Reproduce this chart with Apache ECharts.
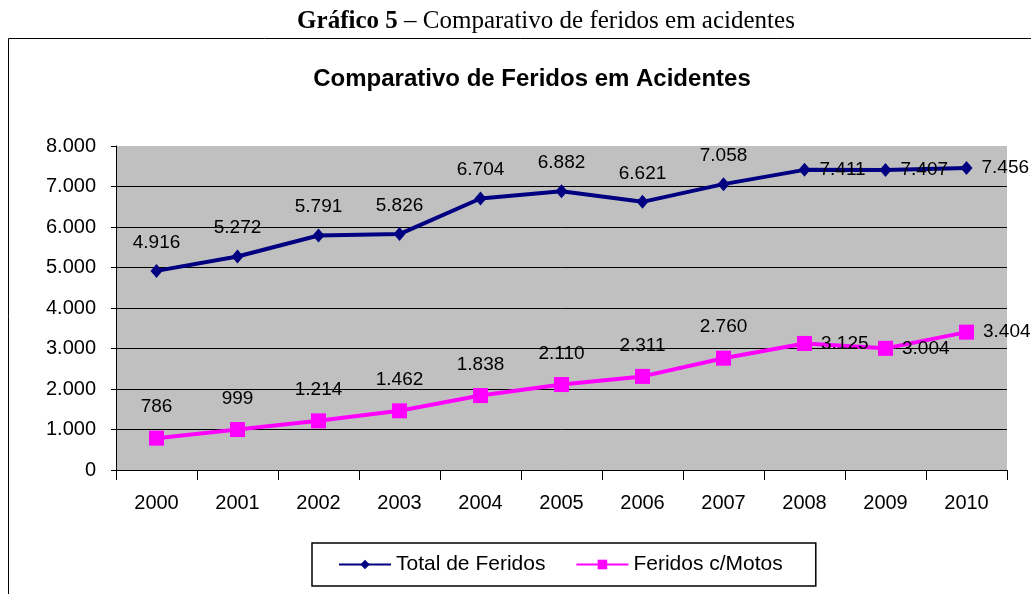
<!DOCTYPE html>
<html>
<head>
<meta charset="utf-8">
<script src="https://cdn.jsdelivr.net/npm/echarts@6/dist/echarts.min.js"></script>
<style>
  html, body { margin: 0; padding: 0; background: #fff; }
  #main { width: 1031px; height: 594px; }
</style>
</head>
<body>
<div id="main"></div>
<script>
var anos = ['2000', '2001', '2002', '2003', '2004', '2005', '2006', '2007', '2008', '2009', '2010'];
var totalFeridos = [4916, 5272, 5791, 5826, 6704, 6882, 6621, 7058, 7411, 7407, 7456];
var feridosMotos = [786, 999, 1214, 1462, 1838, 2110, 2311, 2760, 3125, 3004, 3404];
var yTicks = [0, 1000, 2000, 3000, 4000, 5000, 6000, 7000, 8000];

function fmt(v) {
    return String(v).replace(/\B(?=(\d{3})+(?!\d))/g, '.');
}

// os tres ultimos rotulos ficam a direita do ponto
function pontos(arr) {
    return arr.map(function (v, i) {
        if (i >= 8) {
            return { value: v, label: { position: 'right', distance: 9 } };
        }
        return v;
    });
}

var chart = echarts.init(document.getElementById('main'));
var option = {
    backgroundColor: '#ffffff',
    animation: false,
    title: [{
        text: '{b|Gráfico 5}{n| – Comparativo de feridos em acidentes}',
        left: 541,
        top: 4,
        textAlign: 'center',
        textStyle: {
            rich: {
                b: { fontFamily: 'Liberation Serif', fontWeight: 'bold', fontSize: 25, color: '#000' },
                n: { fontFamily: 'Liberation Serif', fontWeight: 'normal', fontSize: 25, color: '#000' }
            }
        }
    }, {
        text: 'Comparativo de Feridos em Acidentes',
        left: 527,
        top: 62,
        textAlign: 'center',
        textStyle: { fontFamily: 'Liberation Sans', fontWeight: 'bold', fontSize: 24, color: '#000' }
    }],
    graphic: [{
        type: 'rect',
        shape: { x: 8.5, y: 38.5, width: 1100, height: 700 },
        style: { fill: 'none', stroke: '#000', lineWidth: 1 },
        z: -1
    }],
    legend: {
        left: 312,
        top: 543,
        padding: [11, 33, 11, 26],
        itemGap: 30,
        itemWidth: 52,
        itemHeight: 12,
        borderColor: '#000',
        borderWidth: 1.5,
        textStyle: { fontFamily: 'Liberation Sans', fontSize: 21, color: '#000' },
        data: ['Total de Feridos', 'Feridos c/Motos']
    },
    grid: {
        left: 116,
        right: 24,
        top: 146,
        bottom: 124,
        show: true,
        backgroundColor: '#c0c0c0',
        borderWidth: 0
    },
    xAxis: {
        type: 'category',
        data: anos,
        boundaryGap: true,
        axisLine: { lineStyle: { color: '#000', width: 1 } },
        axisTick: { show: true, length: 10, interval: 0, lineStyle: { color: '#000' } },
        axisLabel: { fontFamily: 'Liberation Sans', fontSize: 20, color: '#000', margin: 23 }
    },
    yAxis: {
        type: 'value',
        min: 0,
        max: 8000,
        interval: 1000,
        axisLine: { show: true, lineStyle: { color: '#000', width: 1 } },
        axisTick: { show: true, length: 5, lineStyle: { color: '#000' } },
        axisLabel: {
            fontFamily: 'Liberation Sans', fontSize: 20, color: '#000', margin: 20,
            formatter: function (v) { return yTicks.indexOf(v) >= 0 ? fmt(v) : ''; }
        },
        splitLine: { show: true, showMaxLine: false, lineStyle: { color: '#000', width: 1 } }
    },
    series: [{
        name: 'Total de Feridos',
        type: 'line',
        data: pontos(totalFeridos),
        symbol: 'diamond',
        symbolSize: [12, 14],
        color: '#000080',
        lineStyle: { width: 4, color: '#000080' },
        itemStyle: { color: '#000080' },
        label: {
            show: true, position: 'top', distance: 12,
            fontFamily: 'Liberation Sans', fontSize: 19, color: '#000',
            formatter: function (p) { return fmt(p.value); }
        }
    }, {
        name: 'Feridos c/Motos',
        type: 'line',
        data: pontos(feridosMotos),
        symbol: 'rect',
        symbolSize: 15,
        color: '#ff00ff',
        lineStyle: { width: 4, color: '#ff00ff' },
        itemStyle: { color: '#ff00ff' },
        label: {
            show: true, position: 'top', distance: 14,
            fontFamily: 'Liberation Sans', fontSize: 19, color: '#000',
            formatter: function (p) { return fmt(p.value); }
        }
    }]
};
chart.setOption(option);
</script>
</body>
</html>
